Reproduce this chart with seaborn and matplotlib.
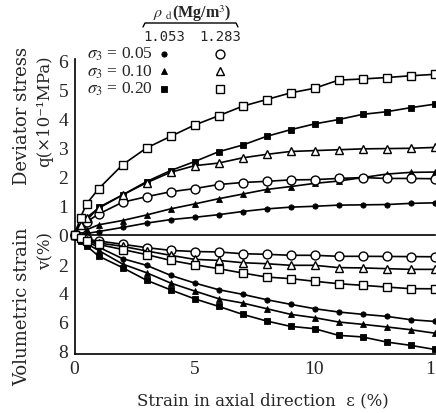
import matplotlib
matplotlib.use("Agg")
import matplotlib.pyplot as plt
from matplotlib.lines import Line2D
import seaborn as sns
import pandas as pd

# Axial strain (%) at which each reading was taken
strain = [0, 0.25, 0.5, 1, 2, 3, 4, 5, 6, 7, 8, 9, 10, 11, 12, 13, 14, 15]

densities = ["1.053", "1.283"]
sigma3_levels = ["0.05", "0.10", "0.20"]

# Deviator stress q (x 0.1 MPa)
q_1053_005 = [0, 0.02, 0.05, 0.12, 0.26, 0.41, 0.53, 0.61, 0.70, 0.81, 0.90, 0.96, 0.99, 1.03, 1.04, 1.05, 1.09, 1.11]
q_1053_010 = [0, 0.08, 0.18, 0.35, 0.50, 0.69, 0.90, 1.07, 1.25, 1.41, 1.57, 1.67, 1.78, 1.86, 1.98, 2.10, 2.16, 2.17]
q_1053_020 = [0, 0.25, 0.50, 0.95, 1.38, 1.84, 2.22, 2.53, 2.87, 3.10, 3.40, 3.63, 3.83, 3.98, 4.16, 4.25, 4.39, 4.51]
q_1283_005 = [0, 0.25, 0.45, 0.72, 1.13, 1.32, 1.49, 1.60, 1.74, 1.81, 1.85, 1.90, 1.91, 1.95, 1.98, 1.95, 1.95, 1.94]
q_1283_010 = [0, 0.35, 0.60, 0.92, 1.38, 1.80, 2.16, 2.39, 2.48, 2.66, 2.78, 2.88, 2.91, 2.94, 2.97, 2.98, 2.99, 3.02]
q_1283_020 = [0, 0.60, 1.07, 1.59, 2.42, 3.00, 3.40, 3.79, 4.11, 4.44, 4.67, 4.90, 5.06, 5.34, 5.38, 5.43, 5.49, 5.54]

# Volumetric strain v (%), compression positive (plotted downward)
v_1053_005 = [0, 0.25, 0.45, 0.83, 1.63, 2.09, 2.78, 3.31, 3.77, 4.09, 4.46, 4.78, 5.08, 5.31, 5.47, 5.61, 5.84, 5.96]
v_1053_010 = [0, 0.30, 0.60, 1.06, 2.00, 2.60, 3.31, 3.86, 4.39, 4.69, 5.08, 5.47, 5.70, 6.00, 6.16, 6.34, 6.53, 6.77]
v_1053_020 = [0, 0.40, 0.75, 1.45, 2.25, 3.12, 3.78, 4.40, 4.92, 5.47, 5.93, 6.30, 6.46, 6.92, 7.03, 7.38, 7.61, 7.89]
v_1283_005 = [0, 0.15, 0.30, 0.41, 0.64, 0.87, 1.06, 1.14, 1.17, 1.29, 1.33, 1.40, 1.40, 1.47, 1.47, 1.48, 1.49, 1.50]
v_1283_010 = [0, 0.18, 0.35, 0.55, 0.78, 1.10, 1.40, 1.68, 1.75, 1.91, 1.98, 2.09, 2.09, 2.25, 2.27, 2.32, 2.37, 2.37]
v_1283_020 = [0, 0.20, 0.40, 0.65, 1.00, 1.35, 1.75, 2.05, 2.32, 2.62, 2.90, 3.01, 3.19, 3.36, 3.47, 3.59, 3.70, 3.71]

q_series = {("1.053", "0.05"): q_1053_005, ("1.053", "0.10"): q_1053_010, ("1.053", "0.20"): q_1053_020,
            ("1.283", "0.05"): q_1283_005, ("1.283", "0.10"): q_1283_010, ("1.283", "0.20"): q_1283_020}
v_series = {("1.053", "0.05"): v_1053_005, ("1.053", "0.10"): v_1053_010, ("1.053", "0.20"): v_1053_020,
            ("1.283", "0.05"): v_1283_005, ("1.283", "0.10"): v_1283_010, ("1.283", "0.20"): v_1283_020}

rows = []
for (rho, s3), qv in q_series.items():
    for e, q, v in zip(strain, qv, v_series[(rho, s3)]):
        rows.append({"strain": e, "q": q, "v": v, "rho": rho, "sigma3": s3})
df = pd.DataFrame(rows)

sns.set_style("white")
plt.rcParams["font.family"] = ["DejaVu Serif"]
plt.rcParams["mathtext.fontset"] = "stix"

marker_of = {"0.05": "o", "0.10": "^", "0.20": "s"}


def style(rho, s3):
    if rho == "1.053":
        return dict(marker=marker_of[s3], markersize=3.8, markerfacecolor="black",
                    markeredgecolor="black", markeredgewidth=0.6)
    size = 6.4 if s3 == "0.05" else 5.6
    return dict(marker=marker_of[s3], markersize=size, markerfacecolor="white",
                markeredgecolor="black", markeredgewidth=1.0)


W, H = 436, 414
fig = plt.figure(figsize=(W / 100, H / 100), dpi=100)
fig.patch.set_facecolor("white")


def fx(px):
    return px / W


def fy(py):
    return 1 - py / H


x0, x1 = 74.5, 434.5
y_zero, y_top, y_bot = 236, 60, 355
ax_q = fig.add_axes([fx(x0), fy(y_zero), (x1 - x0) / W, (y_zero - y_top) / H])
ax_v = fig.add_axes([fx(x0), fy(y_bot), (x1 - x0) / W, (y_bot - y_zero) / H])

for (rho, s3), grp in df.groupby(["rho", "sigma3"]):
    z = 3 if rho == "1.283" else 2
    sns.lineplot(data=grp, x="strain", y="q", ax=ax_q, color="black", linewidth=1.2,
                 clip_on=False, zorder=z, **style(rho, s3))
    sns.lineplot(data=grp, x="strain", y="v", ax=ax_v, color="black", linewidth=1.2,
                 clip_on=False, zorder=z, **style(rho, s3))

tick_font = dict(family="Liberation Serif", size=14)

ax_q.set_xlim(0, 15)
ax_q.set_ylim(0, (y_zero - y_top) / 29.0)
ax_q.set_yticks(range(0, 7))
ax_q.set_yticklabels([str(t) for t in range(0, 7)], fontdict=tick_font)
ax_q.tick_params(axis="y", direction="in", length=5, width=1, pad=4.5)
ax_q.tick_params(axis="x", bottom=False, labelbottom=False)
for side in ("top", "right"):
    ax_q.spines[side].set_visible(False)
for side in ("left", "bottom"):
    ax_q.spines[side].set_linewidth(1.2)
    ax_q.spines[side].set_color("black")

ax_v.set_xlim(0, 15)
ax_v.set_ylim((y_bot - y_zero) / 14.5, 0)
ax_v.set_yticks([2, 4, 6, 8])
ax_v.set_yticklabels(["2", "4", "6", "8"], fontdict=tick_font)
ax_v.set_xticks([0, 5, 10, 15])
ax_v.set_xticklabels(["0", "5", "10", "15"], fontdict=tick_font)
ax_v.tick_params(axis="both", direction="in", length=5, width=1, pad=4.5)
for side in ("top", "right"):
    ax_v.spines[side].set_visible(False)
for side in ("left", "bottom"):
    ax_v.spines[side].set_linewidth(1.2)
    ax_v.spines[side].set_color("black")

for ax in (ax_q, ax_v):
    ax.set_xlabel("")
    ax.set_ylabel("")
    ax.set_facecolor("none")

# Axis titles
fig.text(fx(22), fy(47), "Deviator stress", rotation=90, ha="center", va="top",
         fontsize=13, family="DejaVu Serif")
fig.text(fx(45), fy(55), "q(×10⁻¹MPa)", rotation=90, ha="center", va="top",
         fontsize=12, family="DejaVu Serif")
fig.text(fx(22), fy(227), "Volumetric strain", rotation=90, ha="center", va="top",
         fontsize=13, family="DejaVu Serif")
fig.text(fx(46), fy(232), "v(%)", rotation=90, ha="center", va="top",
         fontsize=12, family="DejaVu Serif")
fig.text(fx(263), fy(401), "Strain in axial direction  ε (%)", ha="center", va="center",
         fontsize=12, family="DejaVu Serif")

# Key: dry density columns and confining pressure rows
fig.text(fx(192), fy(14), r"$\rho$ $_{\rm d}$(Mg/m$^3$)", ha="center", va="center",
         fontsize=11.5, family="Liberation Serif", weight="bold")
fig.add_artist(Line2D([fx(143), fx(145), fx(236), fx(238)], [fy(28), fy(24), fy(24), fy(28)],
                      color="black", linewidth=1.0))
col_x = {"1.053": 164, "1.283": 220}
for rho in densities:
    fig.text(fx(col_x[rho]), fy(37), rho, ha="center", va="center", fontsize=10,
             family="DejaVu Sans Mono")
row_y = {"0.05": 54.5, "0.10": 72, "0.20": 89.5}
for s3 in sigma3_levels:
    fig.text(fx(87), fy(row_y[s3]), r"$\sigma_3$" + " = " + s3, ha="left", va="center",
             fontsize=12.5, family="Liberation Serif")
    for rho in densities:
        fig.add_artist(Line2D([fx(col_x[rho])], [fy(row_y[s3])], linestyle="none",
                              **style(rho, s3)))

fig.savefig("out.png", dpi=100, facecolor="white")
